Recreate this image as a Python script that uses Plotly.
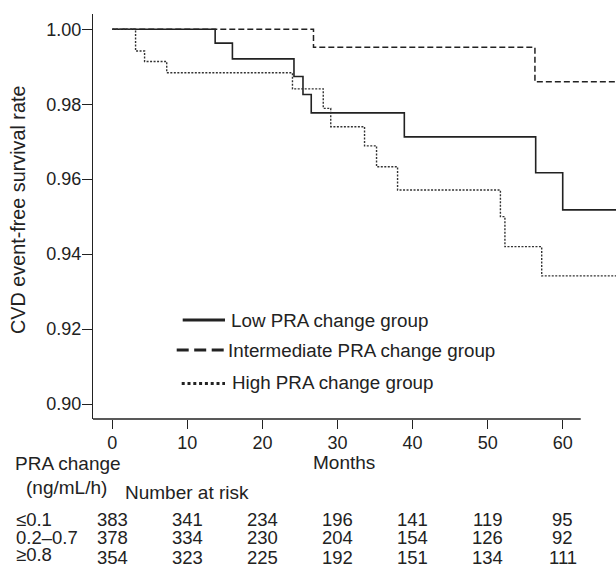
import plotly.graph_objects as go

# ---- data ----
low_t = [0, 13.7, 16.0, 24.2, 25.4, 26.5, 38.9, 56.4, 60.0, 67.1]
low_s = [1.0, 0.9963, 0.9921, 0.9874, 0.9826, 0.9777, 0.9713, 0.9617, 0.9518, 0.9518]

mid_t = [0, 26.8, 56.3, 67.1]
mid_s = [1.0, 0.9952, 0.9860, 0.9860]

high_t = [0, 3.1, 4.3, 7.25, 24.0, 28.1, 29.1, 33.6, 35.2, 38.0, 51.7, 52.3, 57.2, 67.1]
high_s = [1.0, 0.9942, 0.9914, 0.9884, 0.9841, 0.9789, 0.9740, 0.9689, 0.9633, 0.9571,
          0.9500, 0.9420, 0.9342, 0.9342]

risk_times = [0, 10, 20, 30, 40, 50, 60]
risk_low = [383, 341, 234, 196, 141, 119, 95]
risk_mid = [378, 334, 230, 204, 154, 126, 92]
risk_high = [354, 323, 225, 192, 151, 134, 111]
row_labels = ["≤0.1", "0.2–0.7", "≥0.8"]

group_names = ["Low PRA change group", "Intermediate PRA change group", "High PRA change group"]
y_ticks = [0.90, 0.92, 0.94, 0.96, 0.98, 1.00]
x_ticks = [0, 10, 20, 30, 40, 50, 60]

# ---- layout geometry (pixels) ----
W, H = 616, 573
ML, MR, MT, MB = 93, 0, 14, 154
PW = W - ML - MR
PH = H - MT - MB
FONT = "Liberation Sans, Arial, sans-serif"
INK = "#222222"


def px_x(px):
    return (px - ML) / PW


def px_y(py):
    return (H - MB - py) / PH


fig = go.Figure()
fig.add_trace(go.Scatter(x=low_t, y=low_s, mode="lines", line_shape="hv",
                         line=dict(color=INK, width=1.6), name=group_names[0], showlegend=False))
fig.add_trace(go.Scatter(x=mid_t, y=mid_s, mode="lines", line_shape="hv",
                         line=dict(color=INK, width=1.5, dash="6px,3px"), name=group_names[1],
                         showlegend=False))
fig.add_trace(go.Scatter(x=high_t, y=high_s, mode="lines", line_shape="hv",
                         line=dict(color="#333333", width=1.4, dash="2px,1.5px"), name=group_names[2],
                         showlegend=False))

shapes = []
# x axis line (stops a little past 60)
shapes.append(dict(type="line", xref="x", yref="paper", x0=-2.6, x1=62.4, y0=0, y1=0,
                   line=dict(color=INK, width=1.3)))

# legend samples
leg = [
    (182.7, 225.0, 320.0, "solid", group_names[0], 230.0, 320.0),
    (176.7, 228.3, 350.0, "12px,5.5px", group_names[1], 226.5, 350.0),
    (181.7, 225.0, 383.5, "3px,2.8px", group_names[2], 231.0, 382.0),
]
annotations = []


def note(text, x, y, size, xref="paper", xanchor="left", angle=0):
    annotations.append(dict(text=text, xref=xref, yref="paper", x=x, y=y, textangle=angle,
                            xanchor=xanchor, yanchor="middle", showarrow=False, borderpad=0,
                            font=dict(family=FONT, size=size, color=INK)))


for x0, x1, yy, dash, txt, tx, ty in leg:
    shapes.append(dict(type="line", xref="paper", yref="paper", x0=px_x(x0), x1=px_x(x1),
                       y0=px_y(yy), y1=px_y(yy), line=dict(color=INK, width=2.8, dash=dash)))
    note(txt, px_x(tx), px_y(ty), 18.8)

# y-axis title
note("CVD event-free survival rate", px_x(18), px_y(210), 19.8, xanchor="center", angle=-90)
# x-axis title
note("Months", px_x(344), px_y(462), 19, xanchor="center")
# risk-table headers
note("PRA change", px_x(14), px_y(463), 19)
note("(ng/mL/h)", px_x(25), px_y(487), 19)
note("Number at risk", px_x(124), px_y(492), 19)

row_y = [519.5, 537.5, 557.0]
label_y = [519.5, 537.5, 554.0]
for lab, ly in zip(row_labels, label_y):
    note(lab, px_x(15), px_y(ly), 18.5)
for vals, ry in zip([risk_low, risk_mid, risk_high], row_y):
    for t, v in zip(risk_times, vals):
        note(str(v), t, px_y(ry), 18.5, xref="x", xanchor="center")

x_lo = (ML - 112.3) / 7.507
x_hi = (W - MR - 112.3) / 7.507
y_hi = 1 + (29.3 - MT) / 3747.0
y_lo = 1 - ((H - MB) - 29.3) / 3747.0

fig.update_layout(
    width=W, height=H,
    margin=dict(l=ML, r=MR, t=MT, b=MB, pad=0),
    paper_bgcolor="white", plot_bgcolor="white",
    showlegend=False,
    shapes=shapes,
    annotations=annotations,
    font=dict(family=FONT, color=INK),
    xaxis=dict(range=[x_lo, x_hi], tickvals=x_ticks, ticktext=[str(v) for v in x_ticks],
               showgrid=False, zeroline=False, showline=False, ticks="outside", ticklen=9,
               tickwidth=1.3, tickcolor=INK, ticklabelstandoff=-2,
               tickfont=dict(family=FONT, size=18, color=INK)),
    yaxis=dict(range=[y_lo, y_hi], tickvals=y_ticks, ticktext=[f"{v:.2f}" for v in y_ticks],
               showgrid=False, zeroline=False, showline=True, linecolor=INK, linewidth=1.3,
               ticks="outside", ticklen=10, tickwidth=1.3, tickcolor=INK, ticklabelstandoff=-3,
               tickfont=dict(family=FONT, size=18, color=INK)),
)

fig.write_html("out.html", config={"displayModeBar": False},
               post_script="document.body.style.margin='0';document.body.style.padding='0';")
